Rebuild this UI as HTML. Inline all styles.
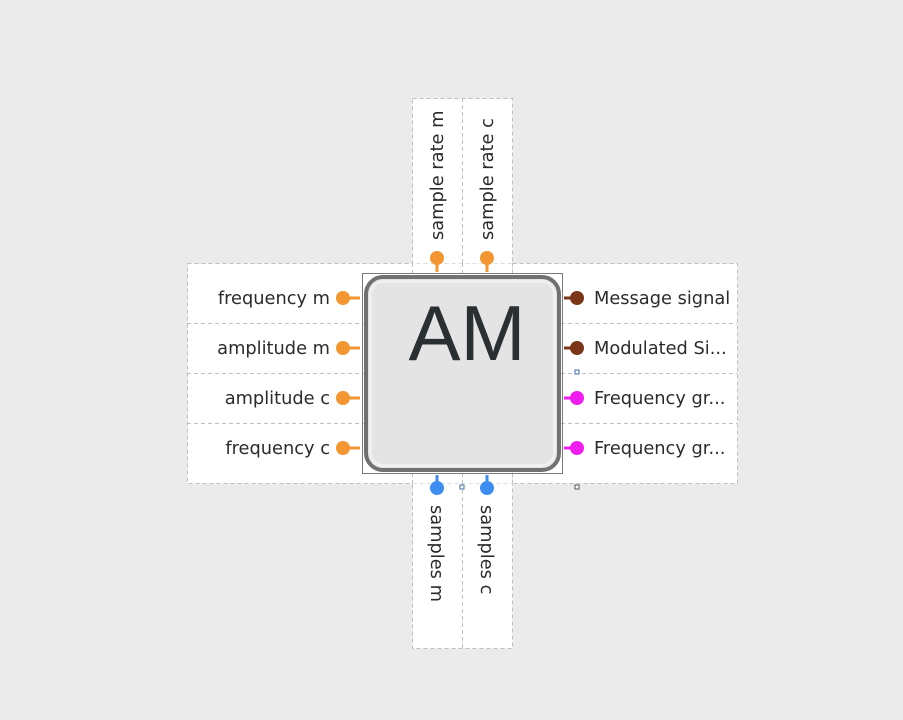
<!DOCTYPE html>
<html><head><meta charset="utf-8"><style>
html,body{margin:0;padding:0;background:#ebebeb;}
svg{display:block;}
text{font-family:"DejaVu Sans","Liberation Sans",sans-serif;font-size:17.8px;fill:#2b2b2b;}
</style></head><body>
<svg width="903" height="720" viewBox="0 0 903 720">
<rect x="0" y="0" width="903" height="720" fill="#ebebeb"/>
<g fill="#fff" stroke="#b8c0c8" stroke-dasharray="4,3" stroke-width="1">
<rect x="187.5" y="263.5" width="225" height="220"/>
<rect x="512.5" y="263.5" width="225" height="220"/>
<rect x="412.5" y="98.5" width="100" height="165"/>
<rect x="412.5" y="483.5" width="100" height="165"/>
<rect x="412.5" y="263.5" width="100" height="220" stroke="none"/>
<line x1="187" y1="323.5" x2="412" y2="323.5"/><line x1="187" y1="373.5" x2="412" y2="373.5"/><line x1="187" y1="423.5" x2="412" y2="423.5"/>
<line x1="512" y1="323.5" x2="737" y2="323.5"/><line x1="512" y1="373.5" x2="737" y2="373.5"/><line x1="512" y1="423.5" x2="737" y2="423.5"/>
<line x1="462.5" y1="98" x2="462.5" y2="263"/><line x1="462.5" y1="483" x2="462.5" y2="648"/>
<line x1="412.5" y1="263" x2="412.5" y2="483"/><line x1="512.5" y1="263" x2="512.5" y2="483"/><line x1="462.5" y1="263" x2="462.5" y2="483"/>
</g>
<g stroke-width="3">
<g><line x1="343" y1="298" x2="360" y2="298" stroke="#f39530"/><circle cx="343" cy="298" r="7" fill="#f39530"/></g>
<g><line x1="343" y1="348" x2="360" y2="348" stroke="#f39530"/><circle cx="343" cy="348" r="7" fill="#f39530"/></g>
<g><line x1="343" y1="398" x2="360" y2="398" stroke="#f39530"/><circle cx="343" cy="398" r="7" fill="#f39530"/></g>
<g><line x1="343" y1="448" x2="360" y2="448" stroke="#f39530"/><circle cx="343" cy="448" r="7" fill="#f39530"/></g>
<g><line x1="564" y1="298" x2="577" y2="298" stroke="#7a3617"/><circle cx="577" cy="298" r="7" fill="#7a3617"/></g>
<g><line x1="564" y1="348" x2="577" y2="348" stroke="#7a3617"/><circle cx="577" cy="348" r="7" fill="#7a3617"/></g>
<g><line x1="564" y1="398" x2="577" y2="398" stroke="#f01cf0"/><circle cx="577" cy="398" r="7" fill="#f01cf0"/></g>
<g><line x1="564" y1="448" x2="577" y2="448" stroke="#f01cf0"/><circle cx="577" cy="448" r="7" fill="#f01cf0"/></g>
<g><line x1="437" y1="258" x2="437" y2="272" stroke="#f39530"/><circle cx="437" cy="258" r="7" fill="#f39530"/></g>
<g><line x1="487" y1="258" x2="487" y2="272" stroke="#f39530"/><circle cx="487" cy="258" r="7" fill="#f39530"/></g>
<g><line x1="437" y1="475" x2="437" y2="488" stroke="#3d8ef0"/><circle cx="437" cy="488" r="7" fill="#3d8ef0"/></g>
<g><line x1="487" y1="475" x2="487" y2="488" stroke="#3d8ef0"/><circle cx="487" cy="488" r="7" fill="#3d8ef0"/></g>
</g>
<text x="330" y="304" text-anchor="end">frequency m</text>
<text x="330" y="354" text-anchor="end">amplitude m</text>
<text x="330" y="404" text-anchor="end">amplitude c</text>
<text x="330" y="454" text-anchor="end">frequency c</text>
<text x="594" y="304">Message signal</text>
<text x="594" y="354">Modulated Si...</text>
<text x="594" y="404">Frequency gr...</text>
<text x="594" y="454">Frequency gr...</text>
<text transform="translate(443,240) rotate(-90)">sample rate m</text>
<text transform="translate(493,240) rotate(-90)">sample rate c</text>
<text transform="translate(431,505) rotate(90)">samples m</text>
<text transform="translate(481,505) rotate(90)">samples c</text>
<g>
<rect x="362.5" y="273.5" width="200" height="200" fill="none" stroke="#7a7a7a" stroke-width="1"/>
<rect x="366" y="277" width="193" height="193" rx="17" fill="#e4e4e4" stroke="#717171" stroke-width="4"/>
<rect x="370.5" y="281.5" width="184" height="184" rx="13" fill="none" stroke="#efefef" stroke-width="3"/>
<text x="467" y="360" text-anchor="middle" style="font-family:'Liberation Sans',sans-serif;font-size:78px;fill:#2a2f32">AM</text>
</g>
<rect x="575" y="370" width="4" height="4" fill="#fff" stroke="#3a6ea5" stroke-width="1"/>
<rect x="460" y="485" width="4" height="4" fill="#fff" stroke="#3a6ea5" stroke-width="1"/>
<rect x="575" y="485" width="4" height="4" fill="#fff" stroke="#555" stroke-width="1"/>
</svg>
</body></html>
